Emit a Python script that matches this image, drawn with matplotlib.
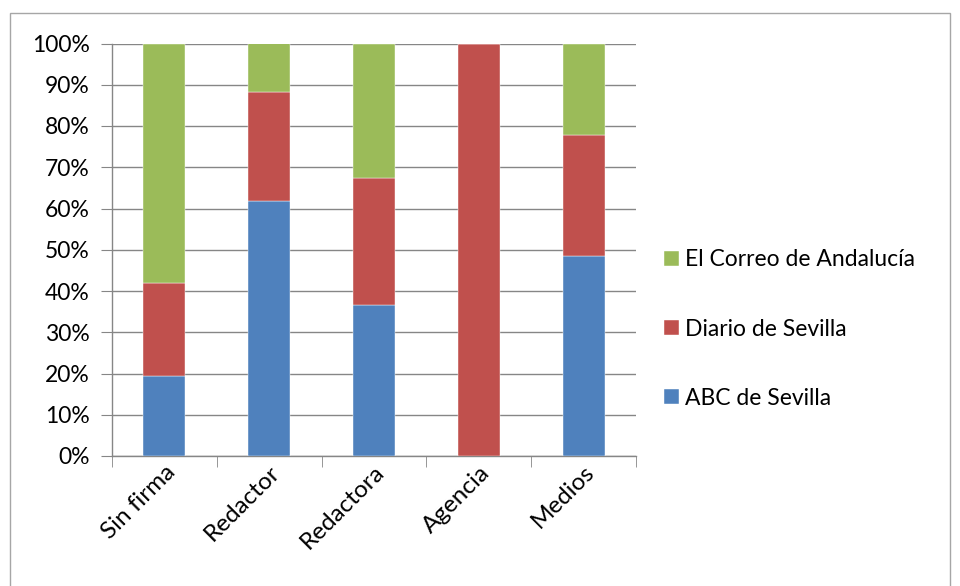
import numpy as np
import matplotlib.pyplot as plt
from matplotlib.patches import Rectangle
from matplotlib.ticker import FuncFormatter, FixedLocator

plt.rcParams['font.family'] = ['Lato', 'DejaVu Sans']

categories = ['Sin firma', 'Redactor', 'Redactora', 'Agencia', 'Medios']
abc = [19.5, 61.7, 36.5, 0.0, 48.4]
diario = [22.4, 26.6, 30.8, 100.0, 29.5]
correo = [58.1, 11.7, 32.7, 0.0, 22.1]

series = [
    ('ABC de Sevilla', abc, '#4f81bd'),
    ('Diario de Sevilla', diario, '#c0504d'),
    ('El Correo de Andalucía', correo, '#9bbb59'),
]

W, H = 960, 586
fig = plt.figure(figsize=(W / 100, H / 100), dpi=100)

# chart frame
fig.patches.append(Rectangle((10 / W, -0.1), 940 / W, 1.1 - 13 / H,
                             transform=fig.transFigure, fill=False,
                             edgecolor='#a6a6a6', linewidth=1.0))

ax = fig.add_axes([112 / W, 1 - 456 / H, 524 / W, 412.5 / H])

x = np.arange(len(categories))
bottom = np.zeros(len(categories))
handles = []
for name, vals, col in series:
    vals = np.array(vals)
    b = ax.bar(x, vals, 0.4, bottom=bottom, color=col, label=name,
               edgecolor='white', linewidth=0.3, zorder=3)
    handles.append(b)
    bottom += vals

ax.set_xlim(-0.5, len(categories) - 0.5)
ax.set_ylim(0, 100)
ax.set_yticks(np.arange(0, 101, 10))
ax.yaxis.set_major_formatter(FuncFormatter(lambda v, p: f'{int(v)}%'))
ax.grid(axis='y', color='#868686', linewidth=1.0, zorder=0)

for s in ['top', 'right']:
    ax.spines[s].set_visible(False)
for s in ['left', 'bottom']:
    ax.spines[s].set_color('#868686')
    ax.spines[s].set_linewidth(1.0)

ax.tick_params(axis='y', length=8, color='#868686', labelsize=16.5, pad=8)
ax.tick_params(axis='x', which='major', length=0, labelsize=17.5, pad=4)
ax.set_xticks(x)
ax.set_xticklabels(categories, rotation=45, ha='right', va='top',
                   rotation_mode='anchor')
ax.xaxis.set_minor_locator(FixedLocator(np.arange(-0.5, len(categories), 1)))
ax.tick_params(axis='x', which='minor', length=8, color='#868686')

leg = fig.legend(handles[::-1], [s[0] for s in series][::-1],
                 loc='center left', bbox_to_anchor=(643 / W, 1 - 329 / H),
                 frameon=False, fontsize=16.5, handlelength=0.65,
                 handleheight=0.65, handletextpad=0.3, labelspacing=2.1)

fig.savefig('out.png', dpi=100)
